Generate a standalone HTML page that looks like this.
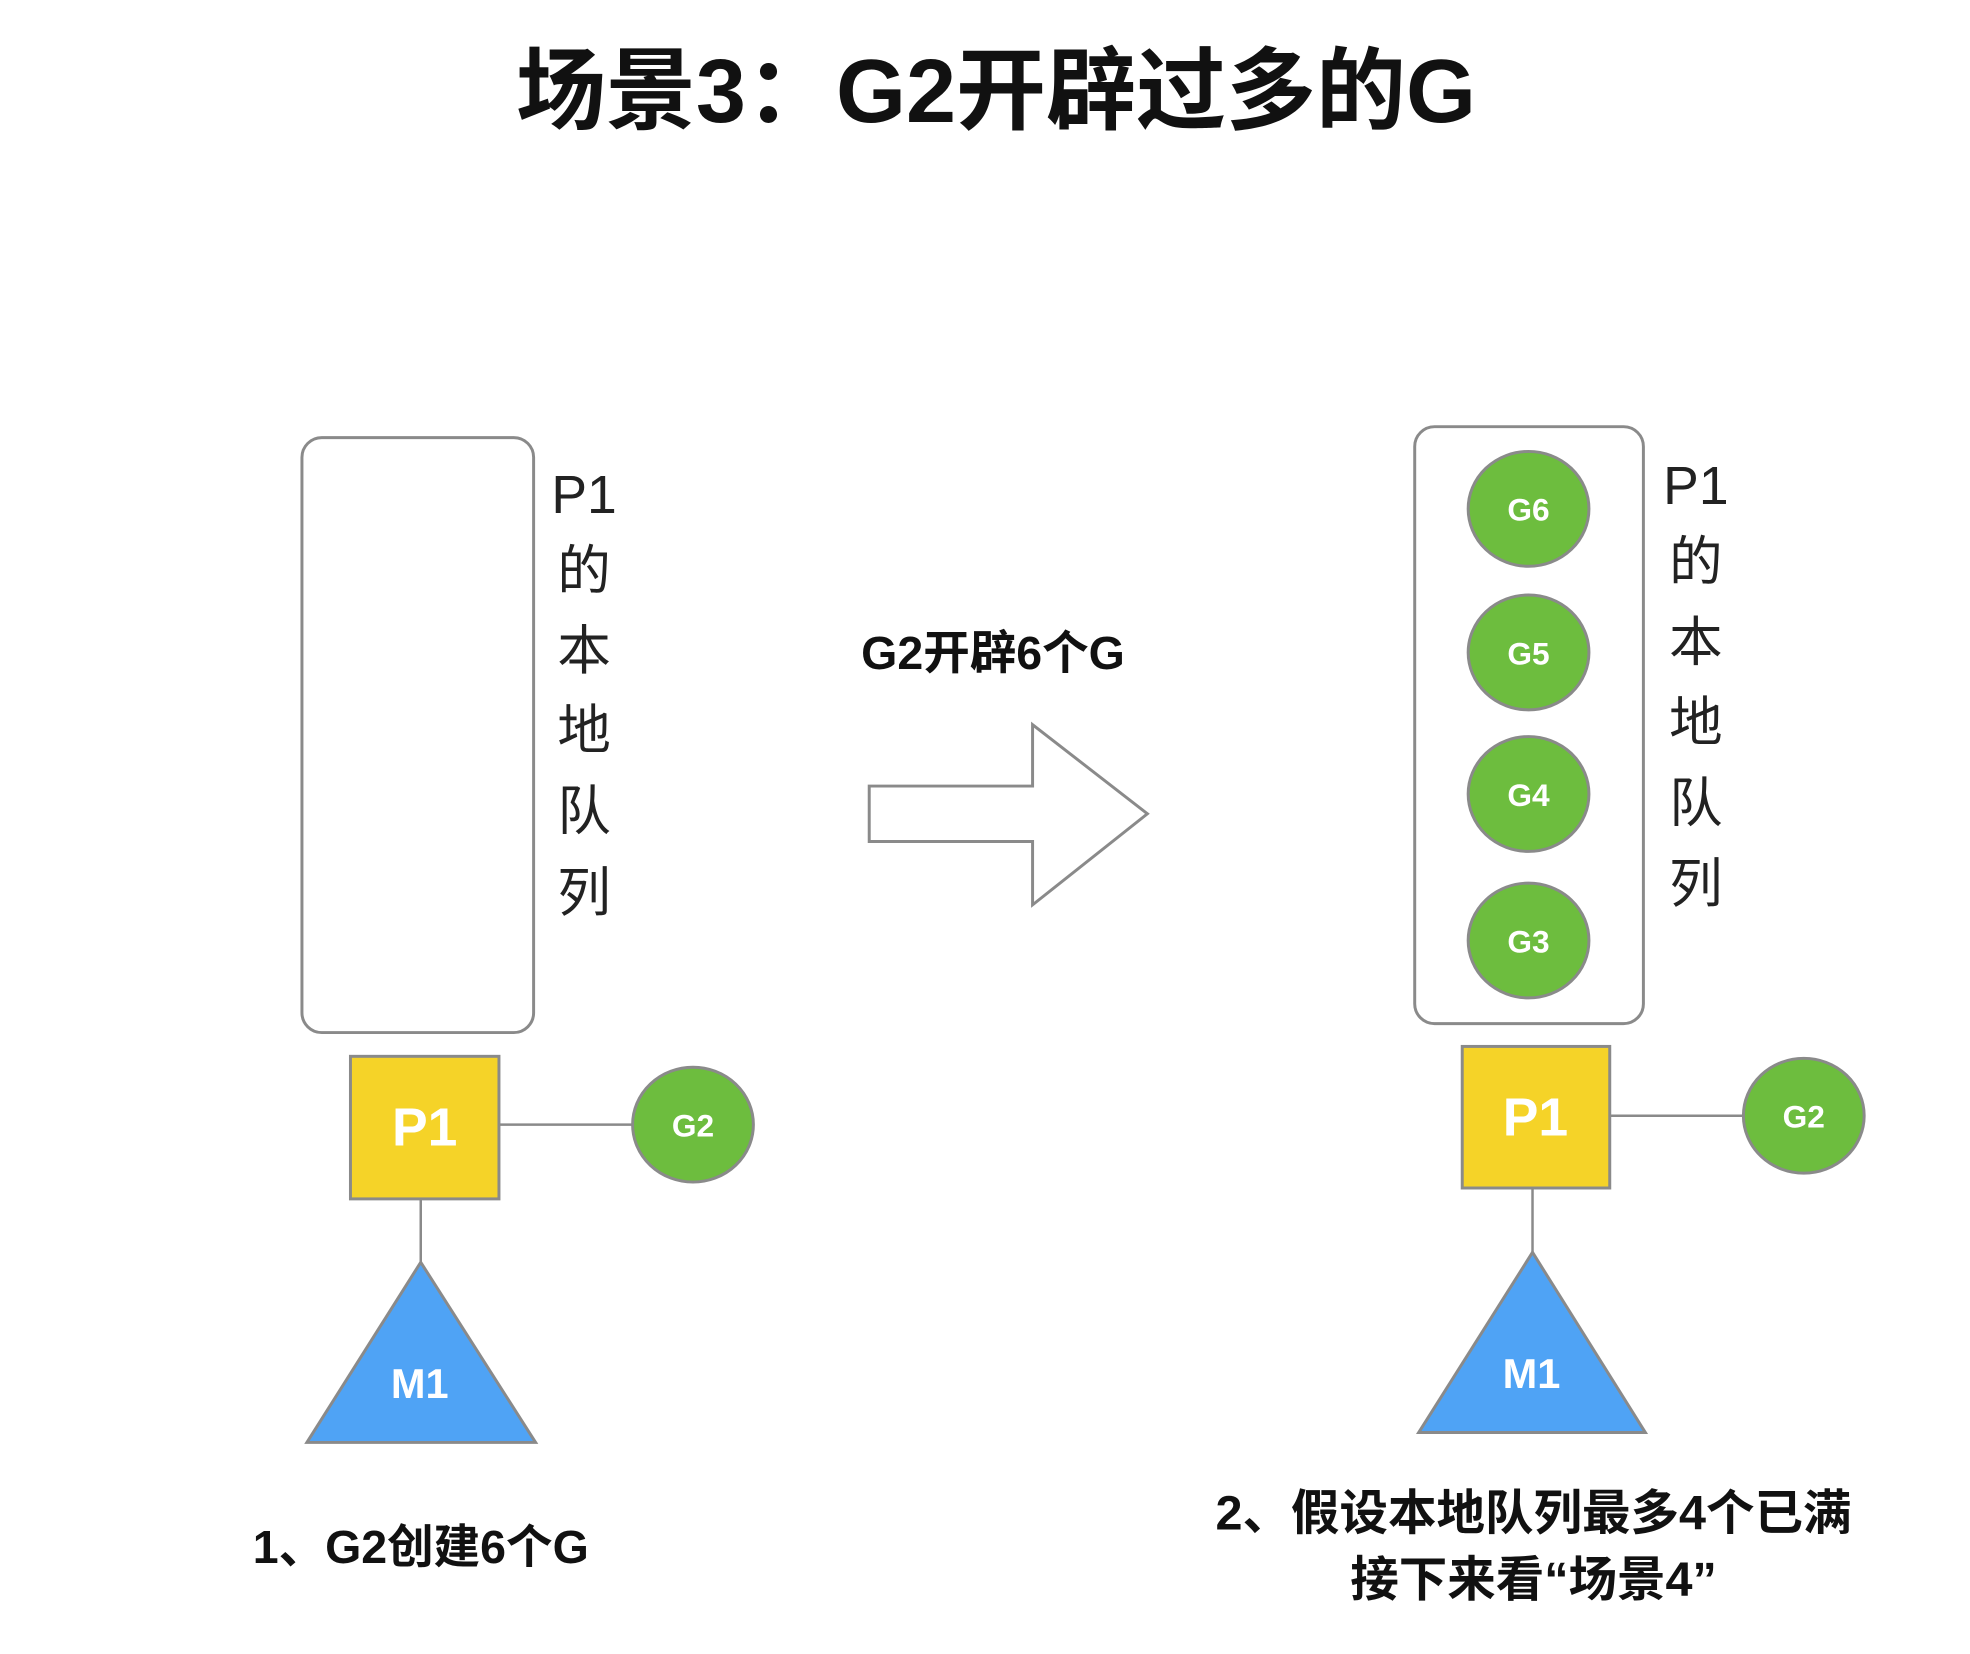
<!DOCTYPE html>
<html><head><meta charset="utf-8"><style>
html,body{margin:0;padding:0;background:#fff;}
svg{display:block;}
text{font-family:"Liberation Sans","Noto Sans CJK SC",sans-serif;}
</style></head><body>
<svg width="1970" height="1654" viewBox="0 0 1970 1654" xmlns="http://www.w3.org/2000/svg">
<text x="996" y="122" font-size="90" font-weight="bold" text-anchor="middle" fill="#111">场景3：G2开辟过多的G</text>
<g transform="scale(0.99)">
<!-- left -->
<rect x="305" y="442" width="234" height="601" rx="20" fill="#fff" stroke="#8a8a8a" stroke-width="3"/>
<g font-size="54" fill="#222" text-anchor="middle">
<text x="590" y="518">P1</text><text x="590" y="595">的</text><text x="590" y="676">本</text><text x="590" y="756">地</text><text x="590" y="838">队</text><text x="590" y="920">列</text>
</g>
<line x1="504" y1="1136" x2="639" y2="1136" stroke="#8a8a8a" stroke-width="2.5"/>
<line x1="425" y1="1211" x2="425" y2="1275" stroke="#8a8a8a" stroke-width="2.5"/>
<rect x="354" y="1067" width="150" height="144" fill="#F5D328" stroke="#8a8a8a" stroke-width="3"/>
<text x="429" y="1157" font-size="54" font-weight="bold" fill="#fff" text-anchor="middle">P1</text>
<ellipse cx="700" cy="1136" rx="61" ry="58" fill="#6DBD3E" stroke="#8a8a8a" stroke-width="3"/>
<text x="700" y="1148" font-size="32" font-weight="bold" fill="#fff" text-anchor="middle">G2</text>
<polygon points="425,1275 541,1457 310,1457" fill="#4FA3F5" stroke="#8a8a8a" stroke-width="3"/>
<text x="424" y="1412" font-size="42" font-weight="bold" fill="#fff" text-anchor="middle">M1</text>
<text x="425" y="1579" font-size="47" font-weight="bold" fill="#111" text-anchor="middle">1、G2创建6个G</text>

<!-- arrow -->
<text x="1003" y="676" font-size="47" font-weight="bold" fill="#111" text-anchor="middle">G2开辟6个G</text>
<polygon points="878,794 1043,794 1043,732 1159,822 1043,914 1043,850 878,850" fill="#fff" stroke="#8a8a8a" stroke-width="3"/>

<!-- right -->
<rect x="1429" y="431" width="231" height="603" rx="20" fill="#fff" stroke="#8a8a8a" stroke-width="3"/>
<g fill="#6DBD3E" stroke="#8a8a8a" stroke-width="3">
<ellipse cx="1544" cy="514" rx="61" ry="58"/><ellipse cx="1544" cy="659" rx="61" ry="58"/>
<ellipse cx="1544" cy="802" rx="61" ry="58"/><ellipse cx="1544" cy="950" rx="61" ry="58"/>
</g>
<g font-size="32" font-weight="bold" fill="#fff" text-anchor="middle">
<text x="1544" y="526">G6</text><text x="1544" y="671">G5</text><text x="1544" y="814">G4</text><text x="1544" y="962">G3</text>
</g>
<g font-size="54" fill="#222" text-anchor="middle">
<text x="1713" y="509">P1</text><text x="1713" y="586">的</text><text x="1713" y="667">本</text><text x="1713" y="748">地</text><text x="1713" y="830">队</text><text x="1713" y="911">列</text>
</g>
<line x1="1626" y1="1127" x2="1761" y2="1127" stroke="#8a8a8a" stroke-width="2.5"/>
<line x1="1548" y1="1200" x2="1548" y2="1265" stroke="#8a8a8a" stroke-width="2.5"/>
<rect x="1477" y="1057" width="149" height="143" fill="#F5D328" stroke="#8a8a8a" stroke-width="3"/>
<text x="1551" y="1147" font-size="54" font-weight="bold" fill="#fff" text-anchor="middle">P1</text>
<ellipse cx="1822" cy="1127" rx="61" ry="58" fill="#6DBD3E" stroke="#8a8a8a" stroke-width="3"/>
<text x="1822" y="1139" font-size="32" font-weight="bold" fill="#fff" text-anchor="middle">G2</text>
<polygon points="1548,1265 1662,1447 1433,1447" fill="#4FA3F5" stroke="#8a8a8a" stroke-width="3"/>
<text x="1547" y="1402" font-size="42" font-weight="bold" fill="#fff" text-anchor="middle">M1</text>
<text x="1549" y="1545" font-size="49" font-weight="bold" fill="#111" text-anchor="middle">2、假设本地队列最多4个已满</text>
<text x="1549" y="1612" font-size="49" font-weight="bold" fill="#111" text-anchor="middle">接下来看“场景4”</text>
</g>
</svg>
</body></html>
